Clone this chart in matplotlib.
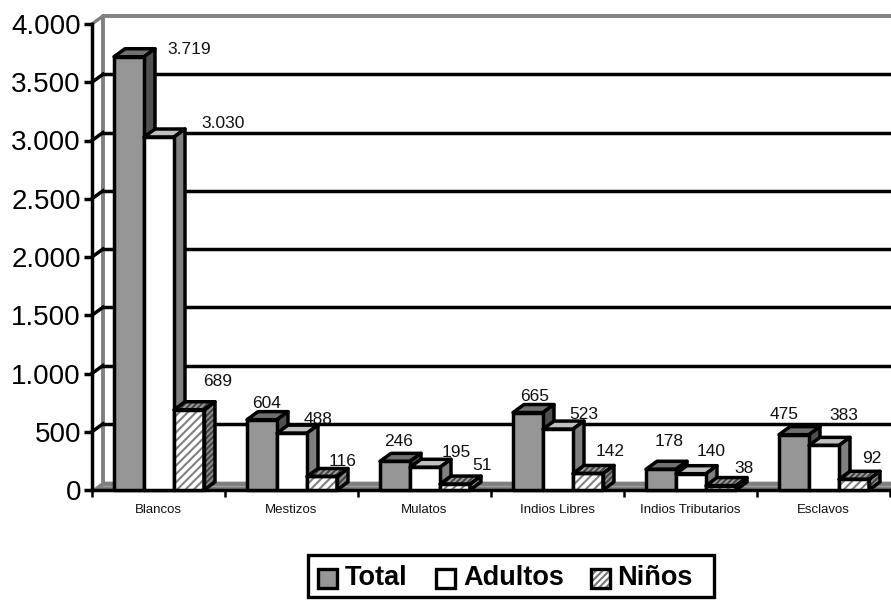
import matplotlib
matplotlib.use("Agg")
import matplotlib.pyplot as plt
from matplotlib.patches import Polygon, Rectangle

plt.rcParams['font.family'] = ['Liberation Sans', 'DejaVu Sans']
plt.rcParams['hatch.linewidth'] = 1.5

categories = ['Blancos', 'Mestizos', 'Mulatos', 'Indios Libres', 'Indios Tributarios', 'Esclavos']
total = [3719, 604, 246, 665, 178, 475]
adultos = [3030, 488, 195, 523, 140, 383]
ninos = [689, 116, 51, 142, 38, 92]
y_ticks = [0, 500, 1000, 1500, 2000, 2500, 3000, 3500, 4000]
y_labels = ['0', '500', '1.000', '1.500', '2.000', '2.500', '3.000', '3.500', '4.000']
legend_names = ['Total', 'Adultos', 'Niños']

# label shift from the bar's front top centre, in pixels (x, y up)
total_shift = [(60, 7), (5, 16), (4, 20), (7, 16), (8, 28), (-10, 20)]
adultos_shift = [(64, 14), (26, 14), (31, 15), (26, 15), (20, 22), (20, 30)]
ninos_shift = [(29, 28), (21, 15), (27, 19), (22, 22), (23, 17), (18, 21)]

W, H = 891, 600
LEFT, RIGHT, BOTTOM, TOP = 92, 890, 490, 24
fig = plt.figure(figsize=(W / 100, H / 100), dpi=100)
ax = fig.add_axes([LEFT / W, 1 - BOTTOM / H, (RIGHT - LEFT) / W, (BOTTOM - TOP) / H])
ax.set_xlim(0, len(categories))
ax.set_ylim(0, 4000)

# data units per pixel
ux = len(categories) / (RIGHT - LEFT)
uy = 4000 / (BOTTOM - TOP)
dx, dy = 11 * ux, 8 * uy
lw = 2.5

def poly(pts, fc, ec='black', z=3, lw=lw, **kw):
    ax.add_patch(Polygon(pts, closed=True, fc=fc, ec=ec, lw=lw, zorder=z,
                         clip_on=False, joinstyle='round', **kw))

# walls and floor
x_end = len(categories) + 1 * ux
poly([(0, 0), (dx, dy), (x_end, dy), (x_end, 0)], '#808080', ec='#808080', z=1, lw=0.5)
ax.plot([dx, dx, x_end], [0 + dy, 4000 + dy, 4000 + dy], color='#808080', lw=2.8, zorder=1, clip_on=False)
ax.plot([0, dx], [4000, 4000 + dy], color='#808080', lw=2.4, zorder=1, clip_on=False)
ax.plot([dx, x_end], [dy * 0.5, dy * 0.5], color='#a0a0a0', lw=0.8, zorder=1, clip_on=False)
ax.plot([0, x_end], [0, 0], color='black', lw=lw, zorder=2, clip_on=False)
for v in y_ticks[1:-1]:
    ax.plot([dx, x_end], [v + dy, v + dy], color='black', lw=lw, zorder=2, clip_on=False)
    ax.plot([0, dx], [v, v + dy], color='black', lw=lw, zorder=2, clip_on=False)

series = [
    (total, '#969696', '#707070', '#505050', None, total_shift),
    (adultos, 'white', '#c0c0c0', '#808080', None, adultos_shift),
    (ninos, 'white', '#a0a0a0', '#909090', '////', ninos_shift),
]
bar_w = 30 * ux
offset = 22 * ux

def draw_bar(x0, v, front, top, side, hatch):
    x1 = x0 + bar_w
    # hatch layers in grey, outline on top
    if hatch:
        poly([(x0, 0), (x1, 0), (x1, v), (x0, v)], front, ec='#808080', lw=0, hatch='////')
        poly([(x0, v), (x1, v), (x1 + dx, v + dy), (x0 + dx, v + dy)], top, ec='#444444', lw=0, hatch='//////')
        poly([(x1, 0), (x1 + dx, dy), (x1 + dx, v + dy), (x1, v)], side, ec='#444444', lw=0, hatch='//////')
        front = top = side = 'none'
    poly([(x0, v), (x1, v), (x1 + dx, v + dy), (x0 + dx, v + dy)], top)
    poly([(x1, 0), (x1 + dx, dy), (x1 + dx, v + dy), (x1, v)], side)
    poly([(x0, 0), (x1, 0), (x1, v), (x0, v)], front)

for i in range(len(categories)):
    for j, (vals, front, top, side, hatch, shift) in enumerate(series):
        x0 = i + offset + j * bar_w
        draw_bar(x0, vals[i], front, top, side, hatch)
for i in range(len(categories)):
    for j, (vals, front, top, side, hatch, shift) in enumerate(series):
        x0 = i + offset + j * bar_w
        ax.annotate(f'{vals[i]:,}'.replace(',', '.'), (x0 + bar_w / 2, vals[i]),
                    xytext=(shift[i][0] * 0.72, shift[i][1] * 0.72), textcoords='offset points',
                    ha='center', va='center', fontsize=12.5, color='#111111', zorder=6,
                    annotation_clip=False)

# axes
for s in ['top', 'right', 'bottom']:
    ax.spines[s].set_visible(False)
ax.spines['left'].set_linewidth(lw)
ax.patch.set_visible(False)
ax.set_yticks(y_ticks)
ax.set_yticklabels(y_labels, fontsize=20)
ax.tick_params(axis='y', length=5.5, width=lw, pad=2.5)
ax.set_xticks(range(len(categories) + 1))
ax.set_xticklabels([])
ax.tick_params(axis='x', length=5, width=1.8)
for i, name in enumerate(categories):
    ax.annotate(name, (i + 0.5, 0), xytext=(0, -14.5), textcoords='offset points',
                ha='center', va='center', fontsize=9.5, color='#111111', annotation_clip=False)

# legend box, drawn by hand to keep the spacing
def fx(px):
    return px / W
def fy(py):
    return 1 - py / H

fig.add_artist(Rectangle((fx(308), fy(597)), 406 / W, 42 / H, transform=fig.transFigure,
                         fc='white', ec='black', lw=2.4))
swatch_x = [318, 436, 591]
text_x = [345, 463, 617]
styles = [('#969696', None), ('white', None), ('white', '/////')]
for sx, tx, name, (fc, hatch) in zip(swatch_x, text_x, legend_names, styles):
    if hatch:
        fig.add_artist(Rectangle((fx(sx), fy(588)), 19 / W, 19 / H, transform=fig.transFigure,
                                 fc=fc, ec='#777777', lw=0, hatch=hatch))
        fc = 'none'
    fig.add_artist(Rectangle((fx(sx), fy(588)), 19 / W, 19 / H, transform=fig.transFigure,
                             fc=fc, ec='black', lw=2.4))
    fig.text(fx(tx), fy(578), name, fontsize=19.5, fontweight='bold', ha='left', va='center', color='black')

fig.savefig('out.png', dpi=100)
